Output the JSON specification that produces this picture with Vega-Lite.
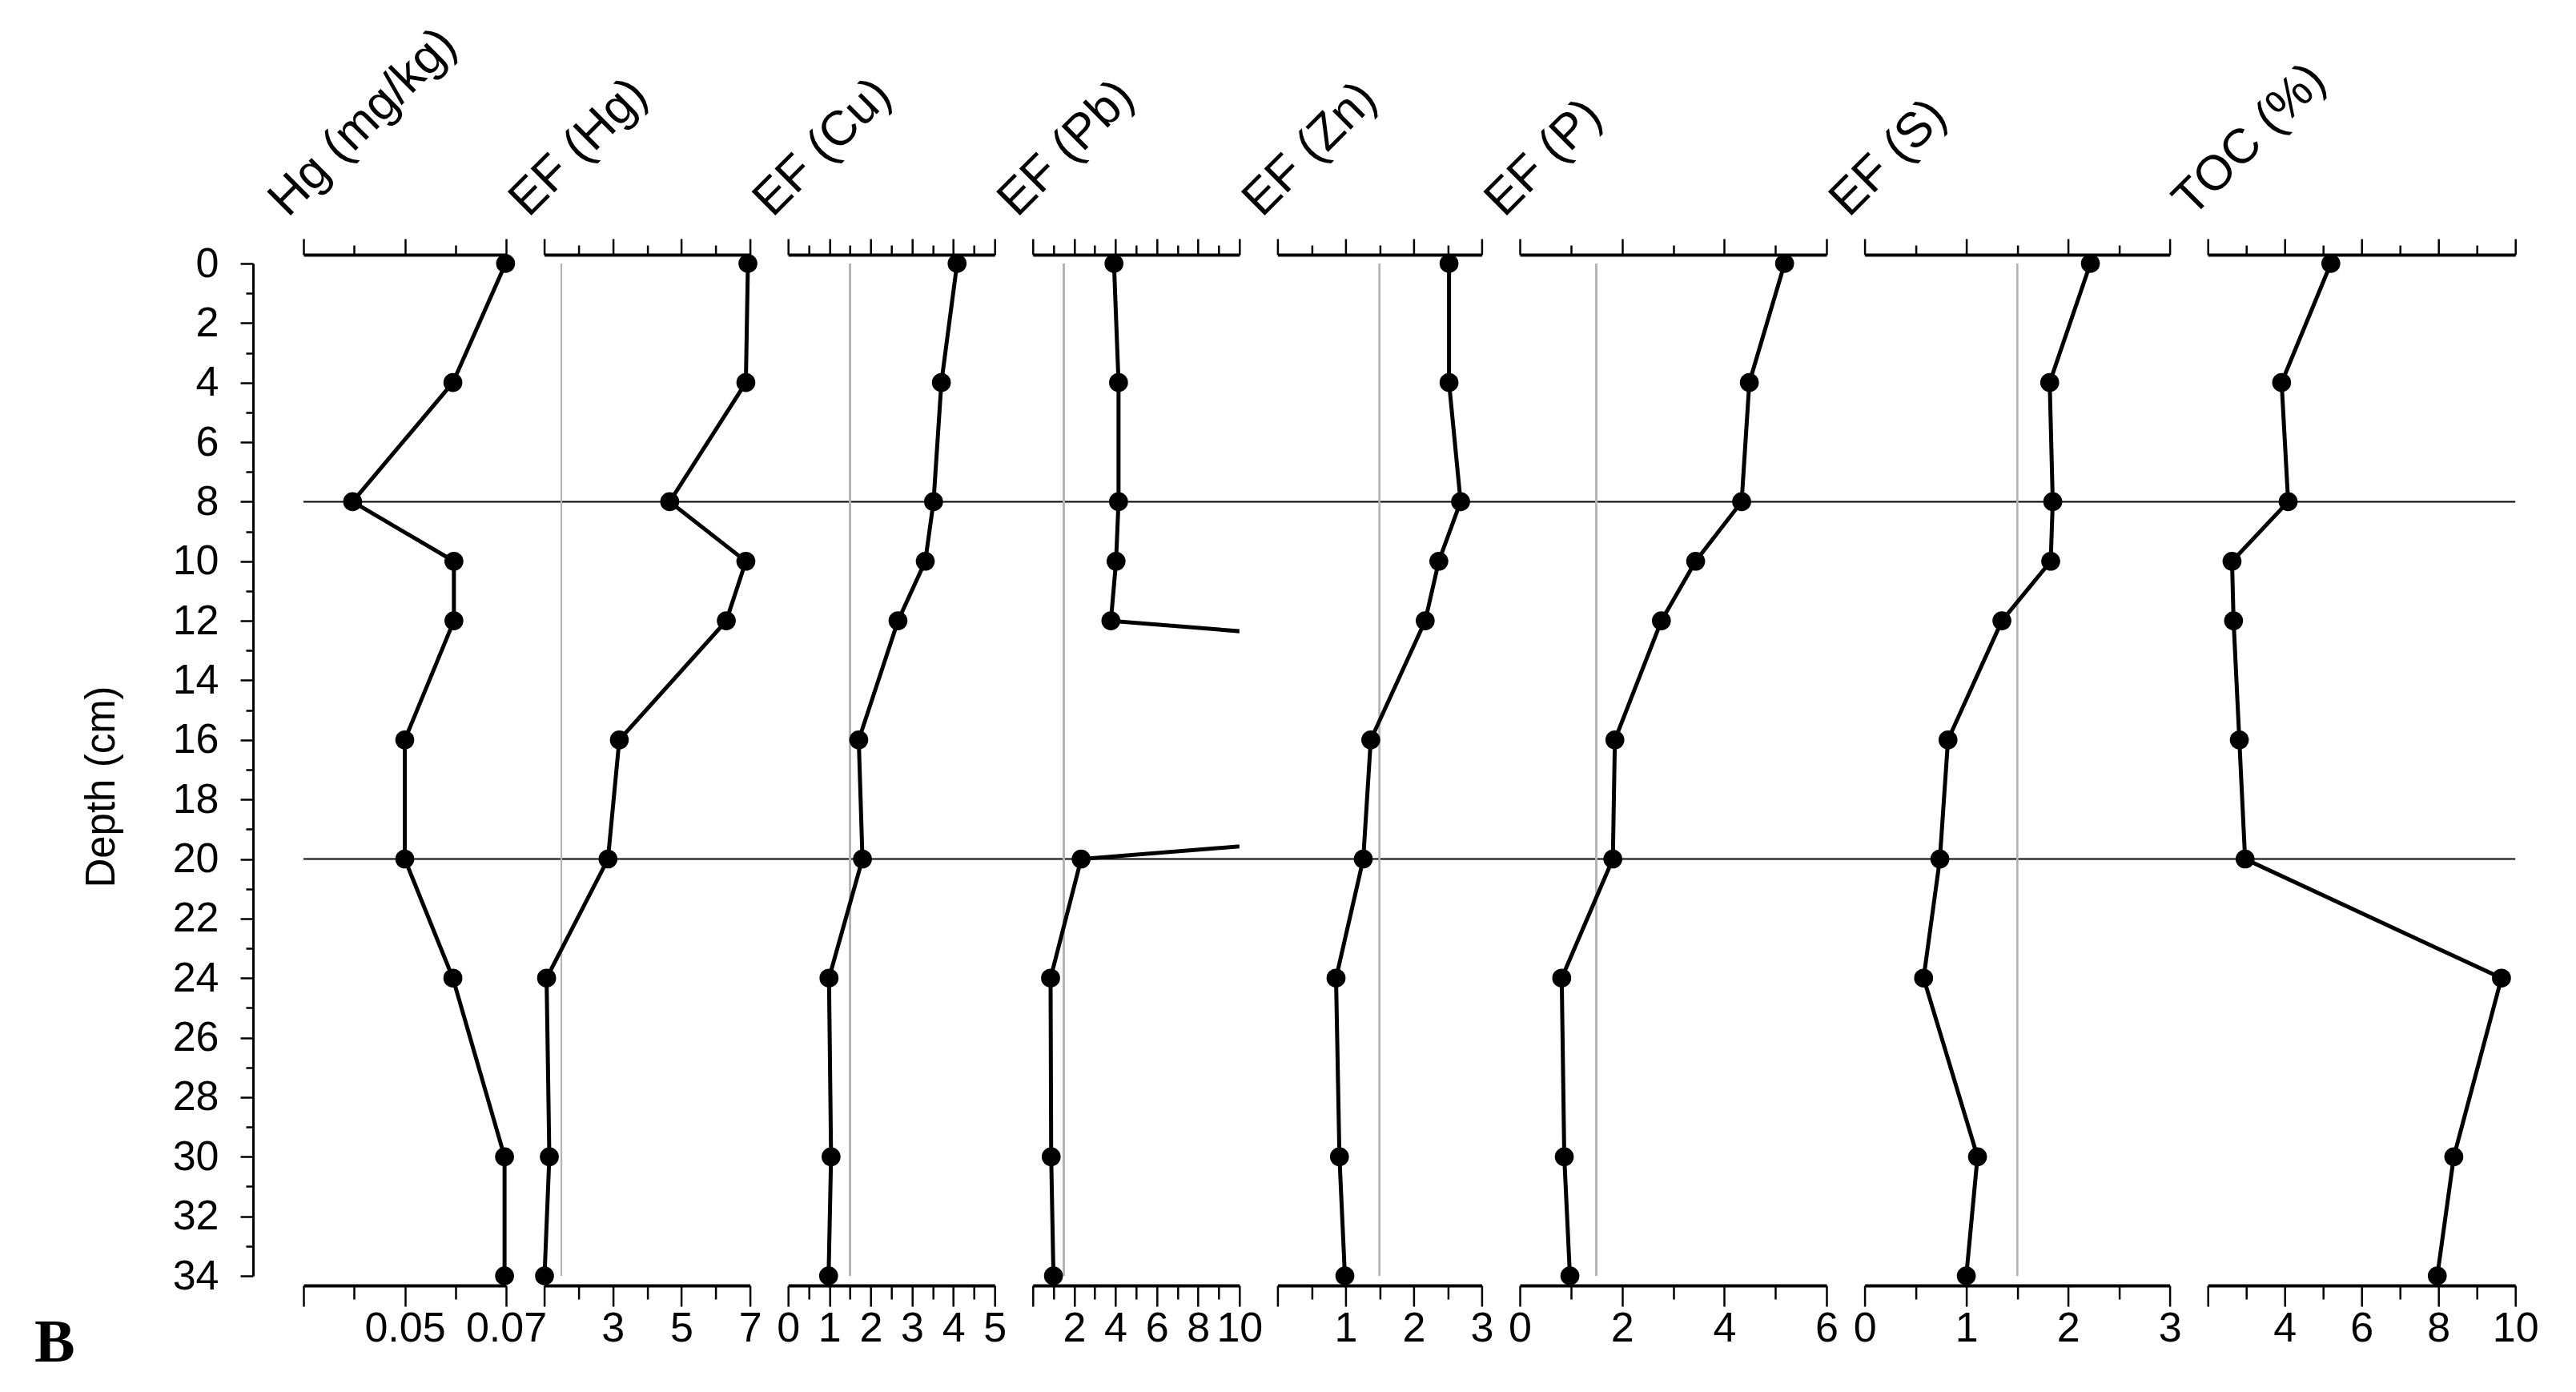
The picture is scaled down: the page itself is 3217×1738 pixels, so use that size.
{
  "$schema": "https://vega.github.io/schema/vega-lite/v6.json",
  "autosize": {"type": "none"},
  "padding": {"left": 379, "top": 329, "right": 2838, "bottom": 1409},
  "background": "white",
  "config": {
    "view": {"stroke": null},
    "font": "Liberation Sans",
    "axis": {
      "grid": false,
      "domainColor": "black",
      "domainWidth": 4,
      "tickColor": "black",
      "tickWidth": 2.5,
      "labelColor": "black",
      "labelFont": "Liberation Sans",
      "labelFontSize": 52,
      "labelPadding": 2,
      "labelFlush": false,
      "labelOverlap": false,
      "titleColor": "black",
      "titleFont": "Liberation Sans",
      "titleFontSize": 61,
      "titleFontWeight": "normal"
    },
    "line": {"color": "black", "strokeWidth": 5},
    "point": {"color": "black", "size": 560}
  },
  "title": {
    "text": "B",
    "orient": "bottom",
    "anchor": "start",
    "frame": "group",
    "font": "Liberation Serif",
    "fontWeight": "bold",
    "fontSize": 76,
    "color": "black",
    "dx": -336,
    "offset": -44
  },
  "datasets": {
    "core": [
      {"depth": 0, "hg": 0.0699, "ef_hg": 6.94, "ef_cu": 4.09, "ef_pb": 3.93, "ef_zn": 2.52, "ef_p": 5.18, "ef_s": 2.22, "toc": 5.2},
      {"depth": 4, "hg": 0.0595, "ef_hg": 6.88, "ef_cu": 3.71, "ef_pb": 4.15, "ef_zn": 2.52, "ef_p": 4.49, "ef_s": 1.82, "toc": 3.92},
      {"depth": 8, "hg": 0.0397, "ef_hg": 4.66, "ef_cu": 3.52, "ef_pb": 4.15, "ef_zn": 2.69, "ef_p": 4.34, "ef_s": 1.85, "toc": 4.09},
      {"depth": 10, "hg": 0.0597, "ef_hg": 6.88, "ef_cu": 3.32, "ef_pb": 4.03, "ef_zn": 2.37, "ef_p": 3.44, "ef_s": 1.83, "toc": 2.63},
      {"depth": 12, "hg": 0.0597, "ef_hg": 6.31, "ef_cu": 2.66, "ef_pb": 3.78, "ef_zn": 2.17, "ef_p": 2.77, "ef_s": 1.35, "toc": 2.67},
      {"depth": 16, "hg": 0.05, "ef_hg": 3.19, "ef_cu": 1.71, "ef_pb": 75, "ef_zn": 1.37, "ef_p": 1.86, "ef_s": 0.82, "toc": 2.82},
      {"depth": 20, "hg": 0.05, "ef_hg": 2.86, "ef_cu": 1.8, "ef_pb": 2.34, "ef_zn": 1.26, "ef_p": 1.82, "ef_s": 0.74, "toc": 2.97},
      {"depth": 24, "hg": 0.0595, "ef_hg": 1.07, "ef_cu": 0.99, "ef_pb": 0.86, "ef_zn": 0.86, "ef_p": 0.82, "ef_s": 0.58, "toc": 9.64},
      {"depth": 30, "hg": 0.0697, "ef_hg": 1.15, "ef_cu": 1.04, "ef_pb": 0.89, "ef_zn": 0.91, "ef_p": 0.87, "ef_s": 1.11, "toc": 8.4},
      {"depth": 34, "hg": 0.0697, "ef_hg": 1.01, "ef_cu": 0.98, "ef_pb": 1.0, "ef_zn": 0.99, "ef_p": 0.98, "ef_s": 1.0, "toc": 7.97}
    ],
    "boundaries": [{"d": 8}, {"d": 20}]
  },
  "bounds": "flush",
  "spacing": 47.6,
  "hconcat": [
    {
      "width": 253, "height": 1264,
      "data": {"name": "core"},
      "layer": [
        {"mark": {"type": "line"},
         "encoding": {
           "x": {"field": "hg", "type": "quantitative", "scale": {"domain": [0.03, 0.07], "nice": false, "zero": false},
                 "axis": {"orient": "bottom", "offset": 12, "values": [0.03, 0.05, 0.07], "format": ".2f", "labelExpr": "datum.label == '0.03' ? '' : datum.label", "tickSize": 26, "title": null}},
           "y": {"field": "depth", "type": "quantitative", "scale": {"domain": [0, 34], "reverse": true, "nice": false, "zero": false},
                 "axis": {"orient": "left", "offset": 63, "values": [0, 2, 4, 6, 8, 10, 12, 14, 16, 18, 20, 22, 24, 26, 28, 30, 32, 34], "tickSize": 16, "labelPadding": 27, "domainWidth": 3, "title": "Depth (cm)", "titleFontSize": 51, "titleAngle": 270, "titleAlign": "center", "titleBaseline": "middle", "titleX": -189, "titleY": 653}},
           "order": {"field": "depth"}
         }},
        {"mark": {"type": "point", "shape": "circle", "filled": true, "opacity": 1},
         "encoding": {
           "x": {"field": "hg", "type": "quantitative", "axis": {"orient": "top", "offset": 11, "values": [0.03, 0.05, 0.07], "labels": false, "tickSize": 20, "title": "Hg (mg/kg)", "titleAngle": 315, "titleAlign": "left", "titleBaseline": "alphabetic", "titleX": -20, "titleY": -46}},
           "y": {"field": "depth", "type": "quantitative", "axis": {"orient": "left", "offset": 63, "values": [1, 3, 5, 7, 9, 11, 13, 15, 17, 19, 21, 23, 25, 27, 29, 31, 33], "tickSize": 9, "labels": false, "domain": false, "title": null}}
         }},
        {"mark": {"type": "point", "opacity": 0},
         "encoding": {
           "x": {"field": "hg", "type": "quantitative", "axis": {"orient": "bottom", "offset": 12, "values": [0.04, 0.06], "labels": false, "domain": false, "tickSize": 17, "title": null}},
           "y": {"field": "depth", "type": "quantitative", "axis": null}
         }},
        {"mark": {"type": "point", "opacity": 0},
         "encoding": {
           "x": {"field": "hg", "type": "quantitative", "axis": {"orient": "top", "offset": 11, "values": [0.04, 0.06], "labels": false, "domain": false, "tickSize": 12, "title": null}},
           "y": {"field": "depth", "type": "quantitative", "axis": null}
         }},
        {"data": {"name": "boundaries"},
         "mark": {"type": "rule", "color": "black", "strokeWidth": 2},
         "encoding": {
           "y": {"field": "d", "type": "quantitative", "axis": null},
           "x": {"datum": 0.03, "type": "quantitative", "axis": null},
           "x2": {"datum": 0.46671}
         }}
      ],
      "resolve": {"axis": {"x": "independent", "y": "independent"}}
    },
    {
      "width": 257, "height": 1264,
      "data": {"name": "core"},
      "layer": [
        {"mark": {"type": "rule", "color": "#b4b4b4", "strokeWidth": 2},
         "encoding": {
           "x": {"datum": 1.5, "type": "quantitative", "scale": {"domain": [1, 7], "nice": false, "zero": false}, "axis": null},
           "y": {"datum": 0, "type": "quantitative", "scale": {"domain": [0, 34], "reverse": true, "nice": false, "zero": false}, "axis": null},
           "y2": {"datum": 34}
         }},
        {"mark": {"type": "line"},
         "encoding": {
           "x": {"field": "ef_hg", "type": "quantitative",
                 "axis": {"orient": "bottom", "offset": 12, "values": [1, 3, 5, 7], "labelExpr": "datum.value == 1 ? '' : datum.label", "tickSize": 26, "title": null}},
           "y": {"field": "depth", "type": "quantitative", "axis": null},
           "order": {"field": "depth"}
         }},
        {"mark": {"type": "point", "shape": "circle", "filled": true, "opacity": 1},
         "encoding": {
           "x": {"field": "ef_hg", "type": "quantitative", "axis": {"orient": "top", "offset": 11, "values": [1, 3, 5, 7], "labels": false, "tickSize": 20, "title": "EF (Hg)", "titleAngle": 315, "titleAlign": "left", "titleBaseline": "alphabetic", "titleX": -20, "titleY": -46}},
           "y": {"field": "depth", "type": "quantitative", "axis": null}
         }},
        {"mark": {"type": "point", "opacity": 0},
         "encoding": {
           "x": {"field": "ef_hg", "type": "quantitative", "axis": {"orient": "bottom", "offset": 12, "values": [2, 4, 6], "labels": false, "domain": false, "tickSize": 17, "title": null}},
           "y": {"field": "depth", "type": "quantitative", "axis": null}
         }},
        {"mark": {"type": "point", "opacity": 0},
         "encoding": {
           "x": {"field": "ef_hg", "type": "quantitative", "axis": {"orient": "top", "offset": 11, "values": [2, 4, 6], "labels": false, "domain": false, "tickSize": 12, "title": null}},
           "y": {"field": "depth", "type": "quantitative", "axis": null}
         }}
      ],
      "resolve": {"axis": {"x": "independent"}}
    },
    {
      "width": 258, "height": 1264,
      "data": {"name": "core"},
      "layer": [
        {"mark": {"type": "rule", "color": "#b4b4b4", "strokeWidth": 2},
         "encoding": {
           "x": {"datum": 1.5, "type": "quantitative", "scale": {"domain": [0, 5], "nice": false, "zero": false}, "axis": null},
           "y": {"datum": 0, "type": "quantitative", "scale": {"domain": [0, 34], "reverse": true, "nice": false, "zero": false}, "axis": null},
           "y2": {"datum": 34}
         }},
        {"mark": {"type": "line"},
         "encoding": {
           "x": {"field": "ef_cu", "type": "quantitative",
                 "axis": {"orient": "bottom", "offset": 12, "values": [0, 1, 2, 3, 4, 5], "tickSize": 26, "title": null}},
           "y": {"field": "depth", "type": "quantitative", "axis": null},
           "order": {"field": "depth"}
         }},
        {"mark": {"type": "point", "shape": "circle", "filled": true, "opacity": 1},
         "encoding": {
           "x": {"field": "ef_cu", "type": "quantitative", "axis": {"orient": "top", "offset": 11, "values": [0, 1, 2, 3, 4, 5], "labels": false, "tickSize": 20, "title": "EF (Cu)", "titleAngle": 315, "titleAlign": "left", "titleBaseline": "alphabetic", "titleX": -20, "titleY": -46}},
           "y": {"field": "depth", "type": "quantitative", "axis": null}
         }},
        {"mark": {"type": "point", "opacity": 0},
         "encoding": {
           "x": {"field": "ef_cu", "type": "quantitative", "axis": {"orient": "bottom", "offset": 12, "values": [0.5, 1.5, 2.5, 3.5, 4.5], "labels": false, "domain": false, "tickSize": 17, "title": null}},
           "y": {"field": "depth", "type": "quantitative", "axis": null}
         }},
        {"mark": {"type": "point", "opacity": 0},
         "encoding": {
           "x": {"field": "ef_cu", "type": "quantitative", "axis": {"orient": "top", "offset": 11, "values": [0.5, 1.5, 2.5, 3.5, 4.5], "labels": false, "domain": false, "tickSize": 12, "title": null}},
           "y": {"field": "depth", "type": "quantitative", "axis": null}
         }}
      ],
      "resolve": {"axis": {"x": "independent"}}
    },
    {
      "width": 258, "height": 1264,
      "data": {"name": "core"},
      "layer": [
        {"mark": {"type": "rule", "color": "#b4b4b4", "strokeWidth": 2},
         "encoding": {
           "x": {"datum": 1.5, "type": "quantitative", "scale": {"domain": [0, 10], "nice": false, "zero": false}, "axis": null},
           "y": {"datum": 0, "type": "quantitative", "scale": {"domain": [0, 34], "reverse": true, "nice": false, "zero": false}, "axis": null},
           "y2": {"datum": 34}
         }},
        {"mark": {"type": "line", "clip": true},
         "encoding": {
           "x": {"field": "ef_pb", "type": "quantitative",
                 "axis": {"orient": "bottom", "offset": 12, "values": [0, 2, 4, 6, 8, 10], "labelExpr": "datum.value == 0 ? '' : datum.label", "tickSize": 26, "title": null}},
           "y": {"field": "depth", "type": "quantitative", "axis": null},
           "order": {"field": "depth"}
         }},
        {"transform": [{"filter": "datum.ef_pb <= 10"}],
         "mark": {"type": "point", "shape": "circle", "filled": true, "opacity": 1},
         "encoding": {
           "x": {"field": "ef_pb", "type": "quantitative", "axis": {"orient": "top", "offset": 11, "values": [0, 2, 4, 6, 8, 10], "labels": false, "tickSize": 20, "title": "EF (Pb)", "titleAngle": 315, "titleAlign": "left", "titleBaseline": "alphabetic", "titleX": -20, "titleY": -46}},
           "y": {"field": "depth", "type": "quantitative", "axis": null}
         }},
        {"transform": [{"filter": "datum.ef_pb <= 10"}],
         "mark": {"type": "point", "opacity": 0},
         "encoding": {
           "x": {"field": "ef_pb", "type": "quantitative", "axis": {"orient": "bottom", "offset": 12, "values": [1, 3, 5, 7, 9], "labels": false, "domain": false, "tickSize": 17, "title": null}},
           "y": {"field": "depth", "type": "quantitative", "axis": null}
         }},
        {"transform": [{"filter": "datum.ef_pb <= 10"}],
         "mark": {"type": "point", "opacity": 0},
         "encoding": {
           "x": {"field": "ef_pb", "type": "quantitative", "axis": {"orient": "top", "offset": 11, "values": [1, 3, 5, 7, 9], "labels": false, "domain": false, "tickSize": 12, "title": null}},
           "y": {"field": "depth", "type": "quantitative", "axis": null}
         }}
      ],
      "resolve": {"axis": {"x": "independent"}}
    },
    {
      "width": 255, "height": 1264,
      "data": {"name": "core"},
      "layer": [
        {"mark": {"type": "rule", "color": "#b4b4b4", "strokeWidth": 2},
         "encoding": {
           "x": {"datum": 1.5, "type": "quantitative", "scale": {"domain": [0, 3], "nice": false, "zero": false}, "axis": null},
           "y": {"datum": 0, "type": "quantitative", "scale": {"domain": [0, 34], "reverse": true, "nice": false, "zero": false}, "axis": null},
           "y2": {"datum": 34}
         }},
        {"mark": {"type": "line"},
         "encoding": {
           "x": {"field": "ef_zn", "type": "quantitative",
                 "axis": {"orient": "bottom", "offset": 12, "values": [0, 1, 2, 3], "labelExpr": "datum.value == 0 ? '' : datum.label", "tickSize": 26, "title": null}},
           "y": {"field": "depth", "type": "quantitative", "axis": null},
           "order": {"field": "depth"}
         }},
        {"mark": {"type": "point", "shape": "circle", "filled": true, "opacity": 1},
         "encoding": {
           "x": {"field": "ef_zn", "type": "quantitative", "axis": {"orient": "top", "offset": 11, "values": [0, 1, 2, 3], "labels": false, "tickSize": 20, "title": "EF (Zn)", "titleAngle": 315, "titleAlign": "left", "titleBaseline": "alphabetic", "titleX": -20, "titleY": -46}},
           "y": {"field": "depth", "type": "quantitative", "axis": null}
         }},
        {"mark": {"type": "point", "opacity": 0},
         "encoding": {
           "x": {"field": "ef_zn", "type": "quantitative", "axis": {"orient": "bottom", "offset": 12, "values": [0.5, 1.5, 2.5], "labels": false, "domain": false, "tickSize": 17, "title": null}},
           "y": {"field": "depth", "type": "quantitative", "axis": null}
         }},
        {"mark": {"type": "point", "opacity": 0},
         "encoding": {
           "x": {"field": "ef_zn", "type": "quantitative", "axis": {"orient": "top", "offset": 11, "values": [0.5, 1.5, 2.5], "labels": false, "domain": false, "tickSize": 12, "title": null}},
           "y": {"field": "depth", "type": "quantitative", "axis": null}
         }}
      ],
      "resolve": {"axis": {"x": "independent"}}
    },
    {
      "width": 383, "height": 1264,
      "data": {"name": "core"},
      "layer": [
        {"mark": {"type": "rule", "color": "#b4b4b4", "strokeWidth": 2},
         "encoding": {
           "x": {"datum": 1.5, "type": "quantitative", "scale": {"domain": [0, 6], "nice": false, "zero": false}, "axis": null},
           "y": {"datum": 0, "type": "quantitative", "scale": {"domain": [0, 34], "reverse": true, "nice": false, "zero": false}, "axis": null},
           "y2": {"datum": 34}
         }},
        {"mark": {"type": "line"},
         "encoding": {
           "x": {"field": "ef_p", "type": "quantitative",
                 "axis": {"orient": "bottom", "offset": 12, "values": [0, 2, 4, 6], "tickSize": 26, "title": null}},
           "y": {"field": "depth", "type": "quantitative", "axis": null},
           "order": {"field": "depth"}
         }},
        {"mark": {"type": "point", "shape": "circle", "filled": true, "opacity": 1},
         "encoding": {
           "x": {"field": "ef_p", "type": "quantitative", "axis": {"orient": "top", "offset": 11, "values": [0, 2, 4, 6], "labels": false, "tickSize": 20, "title": "EF (P)", "titleAngle": 315, "titleAlign": "left", "titleBaseline": "alphabetic", "titleX": -20, "titleY": -46}},
           "y": {"field": "depth", "type": "quantitative", "axis": null}
         }},
        {"mark": {"type": "point", "opacity": 0},
         "encoding": {
           "x": {"field": "ef_p", "type": "quantitative", "axis": {"orient": "bottom", "offset": 12, "values": [1, 3, 5], "labels": false, "domain": false, "tickSize": 17, "title": null}},
           "y": {"field": "depth", "type": "quantitative", "axis": null}
         }},
        {"mark": {"type": "point", "opacity": 0},
         "encoding": {
           "x": {"field": "ef_p", "type": "quantitative", "axis": {"orient": "top", "offset": 11, "values": [1, 3, 5], "labels": false, "domain": false, "tickSize": 12, "title": null}},
           "y": {"field": "depth", "type": "quantitative", "axis": null}
         }}
      ],
      "resolve": {"axis": {"x": "independent"}}
    },
    {
      "width": 381, "height": 1264,
      "data": {"name": "core"},
      "layer": [
        {"mark": {"type": "rule", "color": "#b4b4b4", "strokeWidth": 2},
         "encoding": {
           "x": {"datum": 1.5, "type": "quantitative", "scale": {"domain": [0, 3], "nice": false, "zero": false}, "axis": null},
           "y": {"datum": 0, "type": "quantitative", "scale": {"domain": [0, 34], "reverse": true, "nice": false, "zero": false}, "axis": null},
           "y2": {"datum": 34}
         }},
        {"mark": {"type": "line"},
         "encoding": {
           "x": {"field": "ef_s", "type": "quantitative",
                 "axis": {"orient": "bottom", "offset": 12, "values": [0, 1, 2, 3], "tickSize": 26, "title": null}},
           "y": {"field": "depth", "type": "quantitative", "axis": null},
           "order": {"field": "depth"}
         }},
        {"mark": {"type": "point", "shape": "circle", "filled": true, "opacity": 1},
         "encoding": {
           "x": {"field": "ef_s", "type": "quantitative", "axis": {"orient": "top", "offset": 11, "values": [0, 1, 2, 3], "labels": false, "tickSize": 20, "title": "EF (S)", "titleAngle": 315, "titleAlign": "left", "titleBaseline": "alphabetic", "titleX": -20, "titleY": -46}},
           "y": {"field": "depth", "type": "quantitative", "axis": null}
         }},
        {"mark": {"type": "point", "opacity": 0},
         "encoding": {
           "x": {"field": "ef_s", "type": "quantitative", "axis": {"orient": "bottom", "offset": 12, "values": [0.5, 1.5, 2.5], "labels": false, "domain": false, "tickSize": 17, "title": null}},
           "y": {"field": "depth", "type": "quantitative", "axis": null}
         }},
        {"mark": {"type": "point", "opacity": 0},
         "encoding": {
           "x": {"field": "ef_s", "type": "quantitative", "axis": {"orient": "top", "offset": 11, "values": [0.5, 1.5, 2.5], "labels": false, "domain": false, "tickSize": 12, "title": null}},
           "y": {"field": "depth", "type": "quantitative", "axis": null}
         }}
      ],
      "resolve": {"axis": {"x": "independent"}}
    },
    {
      "width": 384, "height": 1264,
      "data": {"name": "core"},
      "layer": [
        {"mark": {"type": "line"},
         "encoding": {
           "x": {"field": "toc", "type": "quantitative", "scale": {"domain": [2, 10], "nice": false, "zero": false},
                 "axis": {"orient": "bottom", "offset": 12, "values": [2, 4, 6, 8, 10], "labelExpr": "datum.value == 2 ? '' : datum.label", "tickSize": 26, "title": null}},
           "y": {"field": "depth", "type": "quantitative", "scale": {"domain": [0, 34], "reverse": true, "nice": false, "zero": false}, "axis": null},
           "order": {"field": "depth"}
         }},
        {"mark": {"type": "point", "shape": "circle", "filled": true, "opacity": 1},
         "encoding": {
           "x": {"field": "toc", "type": "quantitative", "axis": {"orient": "top", "offset": 11, "values": [2, 4, 6, 8, 10], "labels": false, "tickSize": 20, "title": "TOC (%)", "titleAngle": 315, "titleAlign": "left", "titleBaseline": "alphabetic", "titleX": -20, "titleY": -46}},
           "y": {"field": "depth", "type": "quantitative", "axis": null}
         }},
        {"mark": {"type": "point", "opacity": 0},
         "encoding": {
           "x": {"field": "toc", "type": "quantitative", "axis": {"orient": "bottom", "offset": 12, "values": [3, 5, 7, 9], "labels": false, "domain": false, "tickSize": 17, "title": null}},
           "y": {"field": "depth", "type": "quantitative", "axis": null}
         }},
        {"mark": {"type": "point", "opacity": 0},
         "encoding": {
           "x": {"field": "toc", "type": "quantitative", "axis": {"orient": "top", "offset": 11, "values": [3, 5, 7, 9], "labels": false, "domain": false, "tickSize": 12, "title": null}},
           "y": {"field": "depth", "type": "quantitative", "axis": null}
         }}
      ],
      "resolve": {"axis": {"x": "independent"}}
    }
  ]
}
